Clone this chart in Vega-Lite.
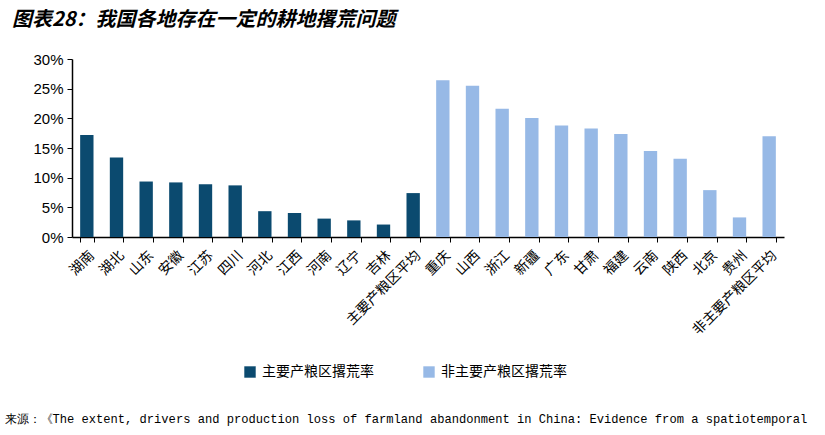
{
  "$schema": "https://vega.github.io/schema/vega-lite/v6.json",
  "width": 712,
  "height": 178,
  "autosize": {"type": "none"},
  "padding": {"left": 72, "top": 59, "right": 41, "bottom": 198},
  "background": "white",
  "title": {
    "text": "图表28：我国各地存在一定的耕地撂荒问题",
    "anchor": "start",
    "frame": "group",
    "dx": -60,
    "offset": 22,
    "font": "Noto Sans CJK SC",
    "fontSize": 20,
    "fontWeight": "bold",
    "fontStyle": "italic",
    "color": "#000000"
  },
  "data": {
    "values": [
      {"region": "湖南", "rate": 0.172, "group": "主要产粮区撂荒率"},
      {"region": "湖北", "rate": 0.134, "group": "主要产粮区撂荒率"},
      {"region": "山东", "rate": 0.0935, "group": "主要产粮区撂荒率"},
      {"region": "安徽", "rate": 0.092, "group": "主要产粮区撂荒率"},
      {"region": "江苏", "rate": 0.089, "group": "主要产粮区撂荒率"},
      {"region": "四川", "rate": 0.087, "group": "主要产粮区撂荒率"},
      {"region": "河北", "rate": 0.0435, "group": "主要产粮区撂荒率"},
      {"region": "江西", "rate": 0.0405, "group": "主要产粮区撂荒率"},
      {"region": "河南", "rate": 0.031, "group": "主要产粮区撂荒率"},
      {"region": "辽宁", "rate": 0.028, "group": "主要产粮区撂荒率"},
      {"region": "吉林", "rate": 0.021, "group": "主要产粮区撂荒率"},
      {"region": "主要产粮区平均", "rate": 0.074, "group": "主要产粮区撂荒率"},
      {"region": "重庆", "rate": 0.264, "group": "非主要产粮区撂荒率"},
      {"region": "山西", "rate": 0.255, "group": "非主要产粮区撂荒率"},
      {"region": "浙江", "rate": 0.216, "group": "非主要产粮区撂荒率"},
      {"region": "新疆", "rate": 0.2005, "group": "非主要产粮区撂荒率"},
      {"region": "广东", "rate": 0.188, "group": "非主要产粮区撂荒率"},
      {"region": "甘肃", "rate": 0.183, "group": "非主要产粮区撂荒率"},
      {"region": "福建", "rate": 0.1735, "group": "非主要产粮区撂荒率"},
      {"region": "云南", "rate": 0.145, "group": "非主要产粮区撂荒率"},
      {"region": "陕西", "rate": 0.132, "group": "非主要产粮区撂荒率"},
      {"region": "北京", "rate": 0.079, "group": "非主要产粮区撂荒率"},
      {"region": "贵州", "rate": 0.033, "group": "非主要产粮区撂荒率"},
      {"region": "非主要产粮区平均", "rate": 0.17, "group": "非主要产粮区撂荒率"}
    ]
  },
  "mark": {"type": "bar"},
  "encoding": {
    "x": {
      "field": "region",
      "type": "nominal",
      "sort": null,
      "scale": {"paddingInner": 0.55, "paddingOuter": 0.275},
      "title": "来源：《The extent, drivers and production loss of farmland abandonment in China: Evidence from a spatiotemporal",
      "axis": {
        "labelAngle": -45,
        "labelFont": "Noto Sans CJK SC",
        "labelFontSize": 14,
        "labelColor": "#000000",
        "labelPadding": 6,
        "tickBand": "extent",
        "tickSize": 5,
        "tickColor": "#000000",
        "domainColor": "#000000",
        "domainWidth": 1.5,
        "titleFont": "Liberation Mono",
        "titleFontSize": 12.1,
        "titleFontWeight": "normal",
        "titleColor": "#000000",
        "titleAnchor": "start",
        "titleAlign": "left",
        "titleBaseline": "middle",
        "titleX": -68,
        "titleY": 181
      }
    },
    "y": {
      "field": "rate",
      "type": "quantitative",
      "scale": {"domain": [0, 0.3]},
      "title": null,
      "axis": {
        "values": [0, 0.05, 0.1, 0.15, 0.2, 0.25, 0.3],
        "format": ".0%",
        "grid": false,
        "labelFont": "Liberation Sans",
        "labelFontSize": 15,
        "labelColor": "#000000",
        "labelPadding": 4,
        "tickSize": 5,
        "tickColor": "#000000",
        "domainColor": "#000000",
        "domainWidth": 1.5
      }
    },
    "color": {
      "field": "group",
      "type": "nominal",
      "scale": {
        "domain": ["主要产粮区撂荒率", "非主要产粮区撂荒率"],
        "range": ["#0B4A6F", "#97B9E6"]
      },
      "legend": {
        "title": null,
        "orient": "none",
        "direction": "horizontal",
        "legendX": 171,
        "legendY": 306,
        "symbolType": "square",
        "symbolSize": 130,
        "symbolStrokeWidth": 0,
        "labelFont": "Noto Sans CJK SC",
        "labelFontSize": 14,
        "labelColor": "#000000",
        "labelOffset": 5,
        "columnPadding": 48
      }
    }
  },
  "config": {
    "view": {"stroke": null}
  }
}
